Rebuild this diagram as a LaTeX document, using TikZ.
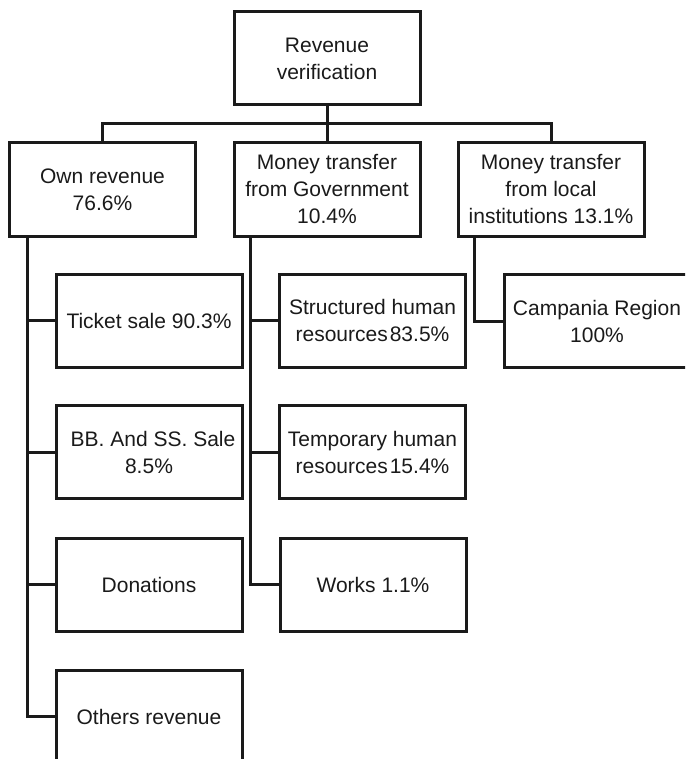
\documentclass[tikz,border=0pt]{standalone}
\usepackage{fontspec}
\setmainfont{Liberation Sans}
\definecolor{ink}{HTML}{1A1A1A}
\begin{document}
\begin{tikzpicture}[x=1pt,y=-1pt,
  box/.style={draw=ink, line width=3pt, minimum width=186pt, minimum height=93pt,
    inner sep=0pt, align=center, text=ink, font=\fontsize{21}{27}\selectfont},
  link/.style={draw=ink, line width=3pt, line join=miter}]
\useasboundingbox (0,0) rectangle (685,759);
\clip (0,0) rectangle (685,759);

% top of the tree
\node[box] (root) at (327,58.5) {Revenue\\verification};

% first level
\node[box] (own)   at (102.5,189.5) {Own revenue\\76.6\%};
\node[box] (gov)   at (327,189.5)   {Money transfer\\from Government\\10.4\%};
\node[box] (local) at (551,189.5)   {Money transfer\\from local\\institutions 13.1\%};

% own revenue breakdown
\node[box] (ticket)    at (149,320.5) {Ticket sale 90.3\%};
\node[box] (bbss)      at (149,452)   {\hspace*{8pt}BB. And SS. Sale\\8.5\%};
\node[box] (donations) at (149,584.5) {Donations};
\node[box] (others)    at (149,716.5) {Others revenue};

% government transfer breakdown
\node[box] (structured) at (372.5,320.5) {Structured human\\resources\hspace{2pt}83.5\%};
\node[box] (temporary)  at (372.5,452)   {Temporary human\\resources\hspace{2pt}15.4\%};
\node[box] (works)      at (373,584.5)   {Works 1.1\%};

% local institutions breakdown
\node[box] (campania) at (597,321) {Campania Region\\100\%};

% bus under the root
\coordinate (bus) at (327,124);
\draw[link] (root.south) -- (bus);
\draw[link] (own.north) |- (bus) -| (local.north);
\draw[link] (gov.north) -- (bus);

% trunks down the left side of each first-level box
\coordinate (ownT)   at ([xshift=19pt]own.south west);
\coordinate (govT)   at ([xshift=18pt]gov.south west);
\coordinate (localT) at ([xshift=18pt]local.south west);

\foreach \c in {ticket,bbss,donations,others}
  \draw[link] (ownT) |- (\c.west);
\foreach \c in {structured,temporary,works}
  \draw[link] (govT) |- (\c.west);
\draw[link] (localT) |- (campania.west);
\end{tikzpicture}
\end{document}
